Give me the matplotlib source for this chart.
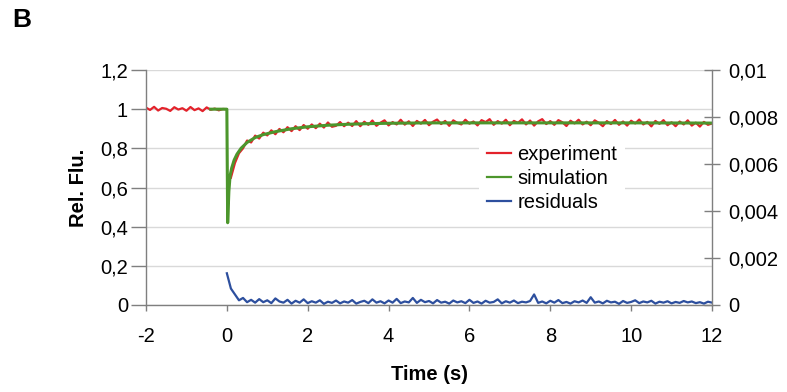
import numpy as np
import matplotlib
matplotlib.use("Agg")
import matplotlib.pyplot as plt
from matplotlib.ticker import FuncFormatter, FixedLocator

plt.rcParams['font.family'] = ['Liberation Sans', 'DejaVu Sans']

# --- measured trace before mixing (t = -2.0 ... 0.0 s, step 0.1) ---
exp_pre_t = np.round(np.linspace(-2.0, 0.0, 21), 2)
exp_pre_v = [1.008, 0.996, 1.012, 0.993, 1.006, 1.002, 0.991, 1.01, 0.998, 1.005,
             0.992, 1.011, 0.995, 1.004, 0.99, 1.009, 0.997, 1.003, 0.994, 1.001, 1.0]

# --- measured trace after mixing (t = 0.1 ... 12.0 s, step 0.1) ---
exp_post_t = np.round(np.linspace(0.1, 12.0, 120), 2)
exp_post_v = [
    0.65, 0.725, 0.775, 0.80, 0.84, 0.83, 0.865, 0.85, 0.88, 0.866,
    0.892, 0.872, 0.899, 0.882, 0.908, 0.888, 0.913, 0.893, 0.919, 0.9,
    0.922, 0.903, 0.926, 0.906, 0.932, 0.91, 0.915, 0.934, 0.913, 0.931,
    0.914, 0.939, 0.913, 0.936, 0.92, 0.942, 0.915, 0.931, 0.943, 0.917,
    0.934, 0.922, 0.946, 0.921, 0.938, 0.914, 0.94, 0.926, 0.945, 0.918,
    0.936, 0.947, 0.924, 0.94, 0.915, 0.943, 0.93, 0.922, 0.946, 0.926,
    0.937, 0.917, 0.944, 0.934, 0.949, 0.92, 0.939, 0.926, 0.946, 0.918,
    0.94, 0.93, 0.948, 0.922, 0.942, 0.916, 0.938, 0.949, 0.924, 0.939,
    0.92, 0.944, 0.933, 0.914, 0.941, 0.927, 0.946, 0.922, 0.936, 0.918,
    0.943, 0.93, 0.913, 0.939, 0.924, 0.945, 0.92, 0.937, 0.916, 0.941,
    0.927, 0.947, 0.922, 0.935, 0.912, 0.94, 0.925, 0.944, 0.918, 0.933,
    0.913, 0.937, 0.922, 0.943, 0.916, 0.931, 0.911, 0.935, 0.92, 0.927,
]

# --- simulated kinetics ---
sim_t = [-0.4, 0.0, 0.02, 0.05, 0.08, 0.12, 0.18, 0.25, 0.35, 0.5, 0.7, 0.9,
         1.2, 1.6, 2.0, 2.5, 3.0, 3.5, 4.0, 5.0, 6.0, 8.0, 10.0, 12.0]
sim_v = [1.0, 1.0, 0.42, 0.58, 0.66, 0.70, 0.74, 0.77, 0.80, 0.83, 0.855, 0.87,
         0.885, 0.90, 0.91, 0.918, 0.923, 0.926, 0.928, 0.93, 0.93, 0.93, 0.93, 0.929]

# --- residuals (t = 0.0 ... 12.0 s, step 0.1), right-hand axis ---
res_t = np.round(np.linspace(0.0, 12.0, 121), 2)
res_v = [
    0.00135, 0.0007, 0.00045, 0.0002, 0.0003, 0.00012, 0.00022, 0.0001, 0.00025, 0.00012,
    0.0002, 0.00008, 0.00028, 0.00015, 0.0001, 0.00022, 0.00006, 0.00018, 0.0001, 0.00024,
    0.00008, 0.00016, 0.0001, 0.0002, 0.00005, 0.00014, 0.00009, 0.00019, 0.00007, 0.00015,
    0.0001, 0.00021, 0.00006, 0.00013, 0.00018, 0.00008, 0.00024, 0.0001, 0.00016, 0.00007,
    0.00019, 0.0001, 0.00026, 0.00008, 0.00015, 0.00011, 0.0003, 0.00009, 0.00022, 0.00012,
    0.00017, 0.00007, 0.00021, 0.0001, 0.00014, 0.00006, 0.00019, 0.00011, 0.00016, 0.00008,
    0.00022, 0.00009, 0.00015, 0.00006, 0.00018, 0.0001, 0.00013, 0.00024, 0.00007, 0.00016,
    0.0001, 0.00019, 0.00008, 0.00014, 0.00011, 0.00017, 0.00045, 0.00009, 0.00015, 0.00007,
    0.00018, 0.0001, 0.00021, 0.00008, 0.00013, 0.00006, 0.00016, 0.00011, 0.00019, 0.00009,
    0.00033, 0.0001, 0.00015, 0.00007, 0.00018, 0.00011, 0.00014, 0.00005, 0.00017, 0.00009,
    0.00013, 0.0002, 0.00008, 0.00015, 0.00011, 0.00018, 0.00006, 0.00014, 0.0001, 0.00016,
    0.00007, 0.00013, 0.00009, 0.00017, 0.00011, 0.00015, 0.00008, 0.00012, 0.00006, 0.00014,
    0.0001,
]

x_ticks = [-2, 0, 2, 4, 6, 8, 10, 12]
left_ticks = [0, 0.2, 0.4, 0.6, 0.8, 1.0, 1.2]
right_ticks = [0, 0.002, 0.004, 0.006, 0.008, 0.01]

RED = '#e3222b'
GREEN = '#4c962c'
BLUE = '#2d4f9e'
AXIS = '#7f7f7f'
GRID = '#d9d9d9'
FS = 14.5


def comma(v, _pos=None):
    s = ('%.3f' % v).rstrip('0').rstrip('.')
    return s.replace('.', ',')


fig = plt.figure(figsize=(7.87, 3.92), dpi=100)
ax = fig.add_axes([146 / 787, 87 / 392, 566 / 787, 235 / 392])
ax2 = ax.twinx()

ax.set_xlim(-2, 12)
ax.set_ylim(0, 1.2)
ax2.set_ylim(0, 0.01)

ax.yaxis.set_major_locator(FixedLocator(left_ticks))
ax.xaxis.set_major_locator(FixedLocator(x_ticks))
ax2.yaxis.set_major_locator(FixedLocator(right_ticks))
ax.yaxis.set_major_formatter(FuncFormatter(comma))
ax.xaxis.set_major_formatter(FuncFormatter(comma))
ax2.yaxis.set_major_formatter(FuncFormatter(comma))

ax.grid(axis='y', color=GRID, lw=1.0)
ax.set_axisbelow(True)

for a in (ax, ax2):
    a.spines['top'].set_visible(False)
    for s in a.spines.values():
        s.set_color(AXIS)
        s.set_linewidth(1.0)
ax2.spines['left'].set_visible(False)
ax2.spines['bottom'].set_visible(False)
ax.spines['right'].set_visible(False)

ax.tick_params(axis='y', direction='out', length=11, width=1, color=AXIS,
               labelsize=FS, pad=2)
ax.tick_params(axis='x', direction='out', length=4, width=1, color=AXIS,
               labelsize=FS, pad=12)
ax2.tick_params(axis='y', direction='inout', length=12, width=1, color=AXIS,
                labelsize=FS, pad=6)

l_exp1, = ax.plot(exp_pre_t, exp_pre_v, color=RED, lw=1.6, label='experiment')
ax.plot(exp_post_t, exp_post_v, color=RED, lw=1.6)
l_sim, = ax.plot(sim_t, sim_v, color=GREEN, lw=2.2, label='simulation')
l_res, = ax2.plot(res_t, res_v, color=BLUE, lw=1.6, label='residuals')

leg = ax2.legend(handles=[l_exp1, l_sim, l_res], loc='center left',
                 bbox_to_anchor=(0.571, 0.54), fontsize=FS, frameon=True,
                 fancybox=False, framealpha=1.0, edgecolor='none',
                 handlelength=1.2, handletextpad=0.3, labelspacing=0.25,
                 borderpad=0.4)
for h in leg.get_lines():
    h.set_linewidth(1.6)

fig.text(78 / 787, 1 - 188 / 392, 'Rel. Flu.', rotation=90, ha='center',
         va='center', fontsize=FS, fontweight='bold')
fig.text(429 / 787, 1 - 375 / 392, 'Time (s)', ha='center', va='center',
         fontsize=FS, fontweight='bold')
fig.text(12 / 787, 1 - 20 / 392, 'B', ha='left', va='center',
         fontsize=19, fontweight='bold')

fig.savefig('out.png', dpi=100)
